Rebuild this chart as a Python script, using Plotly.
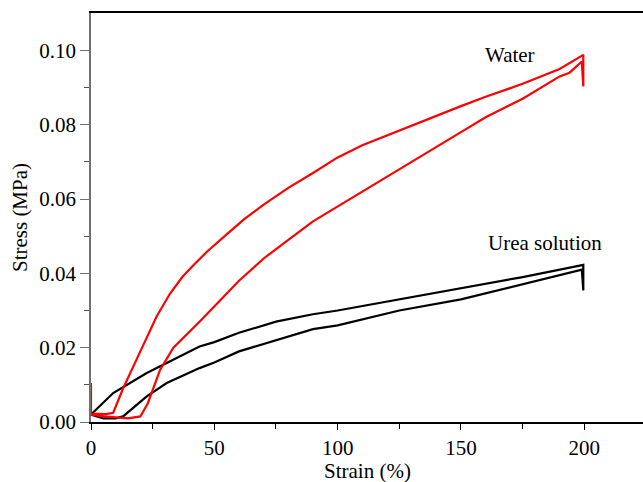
import plotly.graph_objects as go

# Water (red): loading (upper) then unloading (lower)
water_load_x = [0, 0, 3, 6, 9, 13, 20, 26.6, 32, 37, 42, 47, 55, 62, 70, 80, 90, 100, 110, 125, 140, 150, 160, 175, 190, 199.6]
water_load_y = [0.0105, 0.0022, 0.0022, 0.0021, 0.0025, 0.009, 0.019, 0.0284, 0.0345, 0.039, 0.0425, 0.0458, 0.0505, 0.0545, 0.0585, 0.063, 0.067, 0.0712, 0.0745, 0.0785, 0.0825, 0.085, 0.0875, 0.091, 0.095, 0.0988]
water_unload_x = [199.6, 199.6, 199, 194, 190, 175, 160, 150, 140, 125, 110, 100, 90, 80, 70, 60, 50, 44, 33.4, 28, 23, 20, 15, 10, 5, 0]
water_unload_y = [0.0988, 0.0903, 0.097, 0.094, 0.093, 0.087, 0.082, 0.078, 0.074, 0.068, 0.062, 0.058, 0.054, 0.049, 0.044, 0.038, 0.031, 0.027, 0.020, 0.014, 0.005, 0.0015, 0.001, 0.0012, 0.0015, 0.002]

# Urea solution (black)
urea_load_x = [0, 9, 22.6, 36, 44, 50, 60, 75, 90, 100, 125, 150, 175, 199.6]
urea_load_y = [0.002, 0.0078, 0.0132, 0.0177, 0.0203, 0.0215, 0.024, 0.027, 0.029, 0.030, 0.033, 0.036, 0.039, 0.0423]
urea_unload_x = [199.6, 199.6, 199, 175, 150, 125, 100, 90, 75, 60, 50, 44, 30.7, 22.6, 13, 10, 5, 0]
urea_unload_y = [0.0423, 0.0354, 0.041, 0.037, 0.033, 0.030, 0.026, 0.025, 0.022, 0.019, 0.016, 0.0145, 0.0105, 0.0069, 0.0015, 0.001, 0.001, 0.002]

x_title = "Strain (%)"
y_title = "Stress (MPa)"

font_family = "Liberation Serif, Times New Roman, serif"
tfont = dict(family=font_family, size=21, color="black")

fig = go.Figure()
fig.add_trace(go.Scatter(x=urea_load_x + urea_unload_x, y=urea_load_y + urea_unload_y,
                         mode="lines", line=dict(color="black", width=2.2), showlegend=False))
fig.add_trace(go.Scatter(x=water_load_x + water_unload_x, y=water_load_y + water_unload_y,
                         mode="lines", line=dict(color="#ff0000", width=2.2), showlegend=False))

fig.add_annotation(x=170, y=0.0988, text="Water", showarrow=False, font=tfont)
fig.add_annotation(x=184, y=0.0482, text="Urea solution", showarrow=False, font=tfont)
# x-axis title placed below the tick labels
fig.add_annotation(x=0.5, xref="paper", y=0, yref="paper", yanchor="middle",
                   yshift=-49, text=x_title, showarrow=False, font=tfont)

fig.update_layout(
    width=643, height=482,
    margin=dict(l=91, r=0, t=13, b=60),
    paper_bgcolor="white", plot_bgcolor="white",
    font=tfont,
    xaxis=dict(range=[0, 223.8], tickvals=[0, 50, 100, 150, 200],
               showgrid=False, zeroline=False,
               showline=True, linecolor="black", linewidth=1.5, mirror=True,
               ticks="outside", ticklen=6, tickwidth=1.3, tickcolor="black",
               minor=dict(tickvals=[25, 75, 125, 175, 225], ticks="outside", ticklen=5, tickcolor="black"),
               tickfont=tfont, automargin=False),
    yaxis=dict(range=[0, 0.11006], tickvals=[0, 0.02, 0.04, 0.06, 0.08, 0.10],
               tickformat=".2f",
               showgrid=False, zeroline=False,
               showline=True, linecolor="#707070", linewidth=1.5,
               ticks="outside", ticklen=9, tickwidth=1.3, tickcolor="#707070",
               minor=dict(tickvals=[0.01, 0.03, 0.05, 0.07, 0.09], ticks="outside", ticklen=5, tickcolor="#505050"),
               title=dict(text=y_title, standoff=6, font=tfont),
               tickfont=tfont, automargin=False),
)

fig.write_html("out.html")
